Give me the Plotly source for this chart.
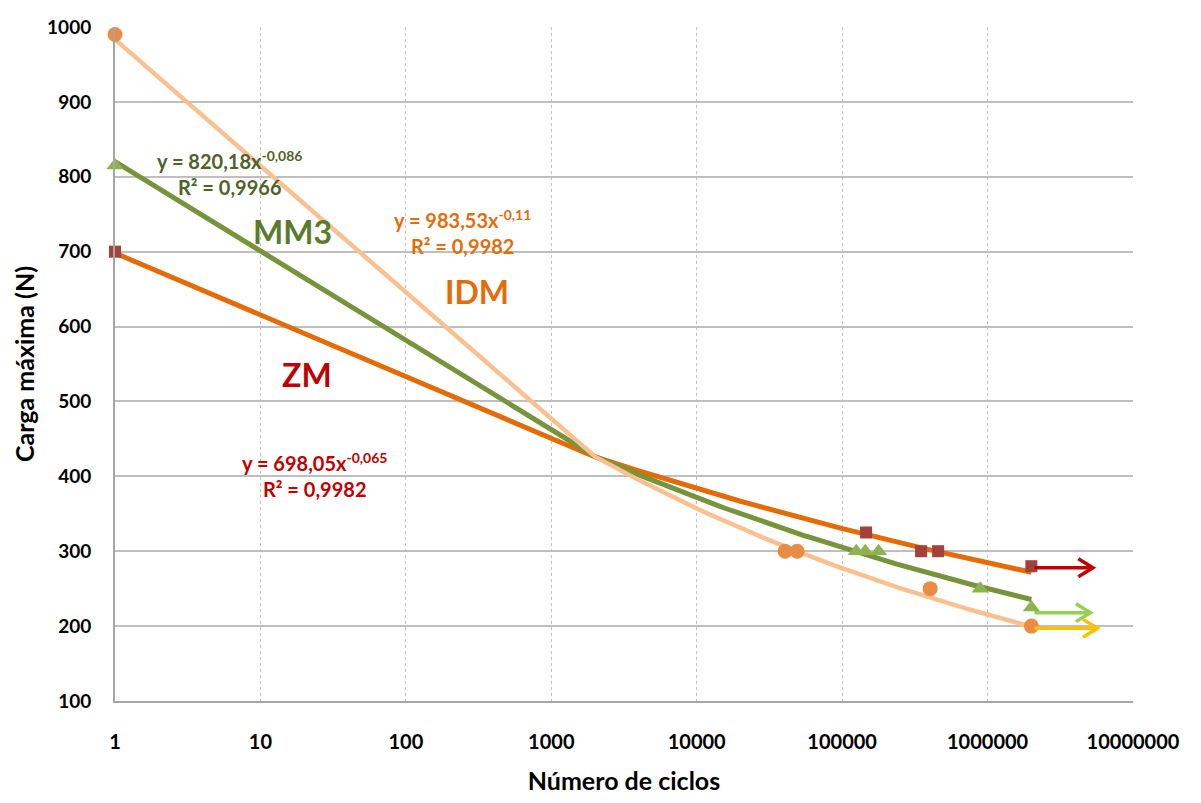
import numpy as np
import plotly.graph_objects as go

# Ensayos de fatiga: carga máxima frente a número de ciclos
zm_ciclos = [1, 146000, 349000, 457000, 2000000]
zm_carga = [700, 325, 300, 300, 280]

mm3_ciclos = [1, 125000, 144000, 178000, 890000, 2000000]
mm3_carga = [815, 300, 300, 300, 250, 225]

idm_ciclos = [1, 40500, 49000, 403000, 2000000]
idm_carga = [990, 300, 300, 250, 200]

# Ajustes potenciales y = a * x^b  (a, b, R²)
zm_ajuste = [698.05, -0.065, 0.9982]
mm3_ajuste = [820.18, -0.086, 0.9966]
idm_ajuste = [983.53, -0.11, 0.9982]

# Flechas de ensayos sin rotura (carga, extremo en ciclos)
flecha_carga = [278, 218, 197]
flecha_fin = [5.3e6, 5.1e6, 5.7e6]
flecha_color = ["#C00000", "#92D050", "#FFC000"]

FONT = "Lato"
C_ZM_LINE = "#E36C09"
C_MM3_LINE = "#77933C"
C_IDM_LINE = "#FAC090"

fig = go.Figure()

# Curvas de tendencia evaluadas en pasos lineales de x (como la hoja de cálculo)
x_fit = np.linspace(1, 2e6, 1001)
for (a, b, _), color, w in [(zm_ajuste, C_ZM_LINE, 5), (mm3_ajuste, C_MM3_LINE, 5),
                            (idm_ajuste, C_IDM_LINE, 4.5)]:
    fig.add_trace(go.Scatter(x=x_fit, y=a * x_fit ** b, mode="lines",
                             line=dict(color=color, width=w), hoverinfo="skip"))

fig.add_trace(go.Scatter(x=zm_ciclos, y=zm_carga, mode="markers", cliponaxis=False,
                         marker=dict(symbol="square", size=12, color="#A5403D")))
fig.add_trace(go.Scatter(x=mm3_ciclos, y=mm3_carga, mode="markers", cliponaxis=False,
                         marker=dict(symbol="triangle-up", size=15, color="#8DB34E")))
fig.add_trace(go.Scatter(x=idm_ciclos, y=idm_carga, mode="markers", cliponaxis=False,
                         marker=dict(symbol="circle", size=15, color="#E98D44")))

# Flechas: tramo horizontal con punta abierta
x0 = zm_ciclos[-1]
for yv, xe, col in zip(flecha_carga, flecha_fin, flecha_color):
    back = xe / 10 ** 0.1
    dy = 12
    fig.add_trace(go.Scatter(x=[x0 * 1.05, xe, None, back, xe, back],
                             y=[yv, yv, None, yv + dy, yv, yv - dy],
                             mode="lines", line=dict(color=col, width=3.5),
                             hoverinfo="skip"))

def ecuacion(aj):
    a, b, r2 = aj
    fa = f"{a:.2f}".replace(".", ",")
    fb = f"{b:g}".replace(".", ",")
    fr = f"{r2:.4f}".replace(".", ",")
    return f"y = {fa}x<sup>{fb}</sup><br>R² = {fr}"

anns = [
    (ecuacion(mm3_ajuste), 10 ** 0.79, 805, "#4F6228", 20),
    (ecuacion(idm_ajuste), 10 ** 2.39, 726, "#E46C0A", 20),
    (ecuacion(zm_ajuste), 10 ** 1.37, 402, "#C00000", 20),
    ("MM3", 10 ** 1.22, 727, "#5B7A2C", 32),
    ("IDM", 10 ** 2.49, 647, "#E46C0A", 32),
    ("ZM", 10 ** 1.32, 536, "#C00000", 32),
]
for txt, xa, ya, col, fs in anns:
    fig.add_annotation(x=np.log10(xa), y=ya, text=txt, showarrow=False,
                       font=dict(family=FONT, size=fs, color=col, weight="bold"),
                       align="center")

fig.update_layout(
    width=1201, height=803,
    margin=dict(l=115, r=68, t=27, b=99),
    paper_bgcolor="white", plot_bgcolor="white",
    showlegend=False,
    font=dict(family=FONT, color="black"),
)
fig.update_xaxes(
    type="log", range=[0, 7],
    tickvals=[10 ** k for k in range(8)],
    ticktext=[str(10 ** k) for k in range(8)],
    tickfont=dict(family=FONT, size=20, weight="bold"),
    ticks="", ticklabelstandoff=22,
    showgrid=True, gridcolor="#BFBFBF", griddash="dot", gridwidth=1,
    showline=True, linecolor="#A6A6A6", linewidth=2,
    zeroline=False,
    title=dict(text="Número de ciclos", standoff=20,
               font=dict(family=FONT, size=25, weight="bold")),
)
fig.update_yaxes(
    range=[100, 1000], dtick=100,
    tickfont=dict(family=FONT, size=19, weight="bold"),
    ticks="", ticklabelstandoff=18,
    showgrid=True, gridcolor="#BFBFBF", gridwidth=1.5,
    showline=True, linecolor="#A6A6A6", linewidth=2,
    zeroline=False,
    title=dict(text="Carga máxima (N)", standoff=5,
               font=dict(family=FONT, size=25, weight="bold")),
)

fig.write_html("out.html")
